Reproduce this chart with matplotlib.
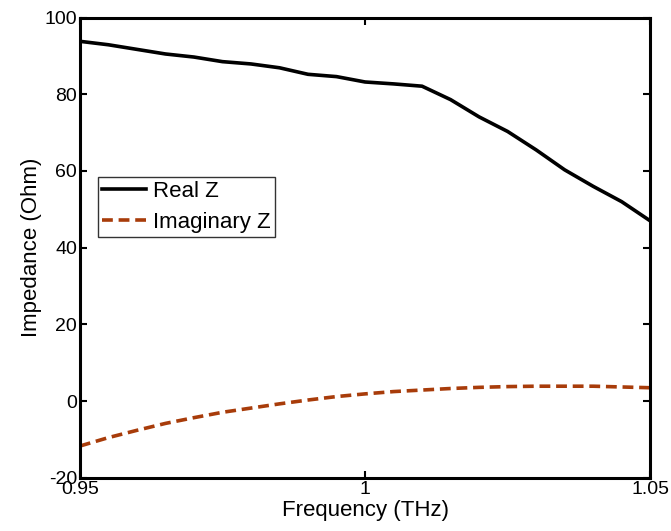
import numpy as np
import matplotlib.pyplot as plt

plt.rcParams['font.family'] = ['Liberation Sans', 'DejaVu Sans']
plt.rcParams['axes.unicode_minus'] = False

# frequency in THz
freq = [0.950, 0.955, 0.960, 0.965, 0.970, 0.975, 0.980, 0.985, 0.990, 0.995, 1.000,
        1.005, 1.010, 1.015, 1.020, 1.025, 1.030, 1.035, 1.040, 1.045, 1.050]

real_z = [93.8, 92.9, 91.7, 90.5, 89.7, 88.5, 87.9, 86.9, 85.2, 84.6, 83.2,
          82.7, 82.1, 78.6, 74.1, 70.3, 65.5, 60.3, 56.0, 52.0, 47.0]

imag_z = [-11.7, -9.5, -7.6, -5.8, -4.3, -2.9, -1.8, -0.7, 0.3, 1.2, 1.9,
          2.5, 2.9, 3.3, 3.6, 3.8, 3.9, 3.9, 3.9, 3.7, 3.5]

fig = plt.figure(figsize=(6.71, 5.31), dpi=100)
ax = fig.add_axes([0.119, 0.100, 0.850, 0.867])

ax.plot(freq, real_z, color='black', lw=2.6, label='Real Z')
ax.plot(freq, imag_z, color='#A83C0A', lw=2.6, ls=(0, (3, 1.6)), label='Imaginary Z')

ax.set_xlim(0.95, 1.05)
ax.set_ylim(-20, 100)
ax.set_xticks([0.95, 1.0, 1.05])
ax.set_xticklabels(['0.95', '1', '1.05'])
ax.set_yticks(np.arange(-20, 101, 20))

ax.tick_params(direction='in', top=True, right=True, length=5, width=1.5,
               labelsize=14, pad=2)
for s in ax.spines.values():
    s.set_linewidth(2.2)

ax.set_xlabel('Frequency (THz)', fontsize=16, labelpad=2)
ax.set_ylabel('Impedance (Ohm)', fontsize=16, labelpad=2)

leg = ax.legend(loc='upper left', bbox_to_anchor=(0.031, 0.654), fontsize=16,
                frameon=True, fancybox=False, edgecolor='black',
                handlelength=2.0, handletextpad=0.3, borderpad=0.2,
                labelspacing=0.42, borderaxespad=0)
leg.get_frame().set_linewidth(1.0)

fig.savefig('out.png', dpi=100)
